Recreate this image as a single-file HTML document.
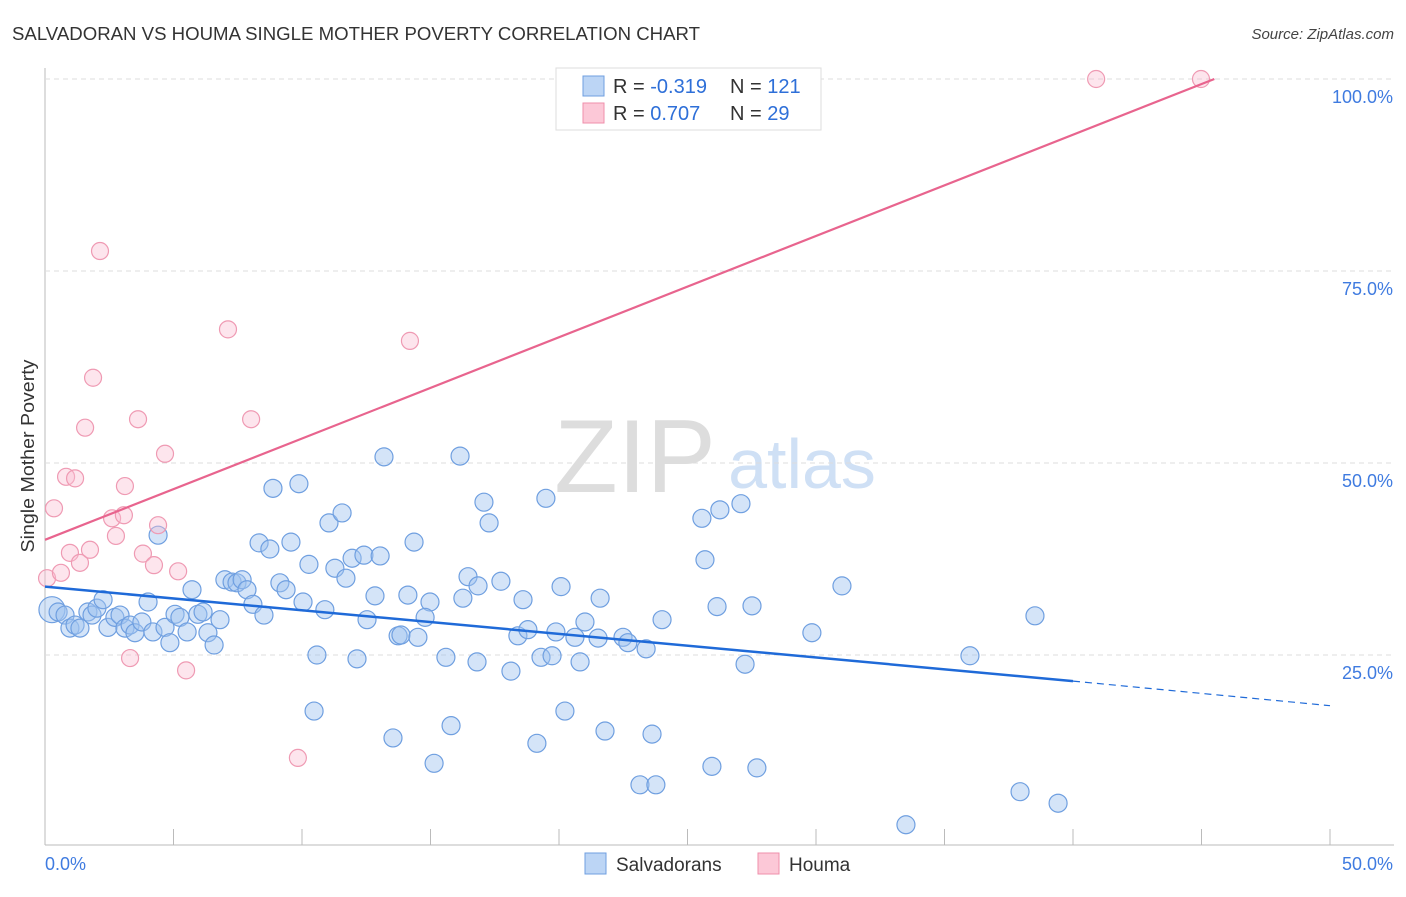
<!DOCTYPE html>
<html><head><meta charset="utf-8"><style>
body{margin:0;background:#fff;font-family:"Liberation Sans",sans-serif;}
svg text{font-family:"Liberation Sans",sans-serif;}
</style></head><body>
<svg id="chart" width="1406" height="892" xmlns="http://www.w3.org/2000/svg">
<text x="12" y="40" font-size="18" fill="#333" textLength="688" lengthAdjust="spacingAndGlyphs">SALVADORAN VS HOUMA SINGLE MOTHER POVERTY CORRELATION CHART</text>
<text x="1394" y="39" font-size="15" fill="#444" text-anchor="end" font-style="italic">Source: ZipAtlas.com</text>
<text x="635" y="492" font-size="104" fill="#ddd" text-anchor="middle" font-family="Liberation Serif">ZIP</text>
<text x="802" y="488" font-size="70" fill="#cfe0f5" text-anchor="middle">atlas</text>
<text transform="translate(34,456) rotate(-90)" font-size="18" fill="#333" text-anchor="middle" textLength="193" lengthAdjust="spacingAndGlyphs">Single Mother Poverty</text>
<g id="grid"></g><g id="pts"></g><g id="lines"></g>
<g>
<rect x="556" y="68" width="265" height="62" fill="#fff" stroke="#ddd"/>
<rect x="583" y="76" width="21" height="20" fill="#bcd5f5" stroke="#6f9fe0"/>
<rect x="583" y="103" width="21" height="20" fill="#fcc8d7" stroke="#ef8fab"/>
<text x="613" y="93" font-size="20" fill="#333">R = <tspan fill="#2e6fd8">-0.319</tspan></text>
<text x="730" y="93" font-size="20" fill="#333">N = <tspan fill="#2e6fd8">121</tspan></text>
<text x="613" y="120" font-size="20" fill="#333">R = <tspan fill="#2e6fd8"> 0.707</tspan></text>
<text x="730" y="120" font-size="20" fill="#333">N = <tspan fill="#2e6fd8"> 29</tspan></text>
</g>
<g>
<rect x="585" y="853" width="21" height="21" fill="#bcd5f5" stroke="#6f9fe0"/>
<text x="616" y="871" font-size="19" fill="#333">Salvadorans</text>
<rect x="758" y="853" width="21" height="21" fill="#fcc8d7" stroke="#ef8fab"/>
<text x="789" y="871" font-size="19" fill="#333">Houma</text>
</g>
</svg>
<script>
const blueX=[0.27,0.51,0.78,0.97,1.17,1.36,1.67,1.83,2.02,2.26,2.45,2.72,2.92,3.11,3.31,3.50,3.77,4.01,4.20,4.40,4.67,4.86,5.06,5.25,5.53,5.72,5.95,6.15,6.34,6.58,6.81,7.00,7.28,7.47,7.67,7.86,8.09,8.33,8.52,8.75,8.87,9.14,9.38,9.57,9.88,10.04,10.27,10.58,10.47,10.89,11.05,11.28,11.56,11.71,11.95,12.14,12.41,12.53,12.84,13.04,13.19,13.54,13.74,13.85,14.12,14.36,14.51,14.98,14.79,15.14,15.60,15.80,16.15,16.26,16.46,16.81,16.85,17.08,17.28,17.74,18.13,18.40,18.60,18.79,19.14,19.30,19.49,19.73,19.88,20.08,20.23,20.62,20.82,21.01,21.52,21.60,21.79,22.49,22.68,23.15,23.39,23.62,23.77,24.01,25.56,25.68,25.95,26.15,26.26,27.08,27.24,27.51,27.70,29.84,31.01,33.50,35.99,37.94,38.52,39.42];
const blueY=[30.9,30.6,30.2,28.5,28.9,28.5,30.6,30.2,31.1,32.2,28.6,29.9,30.2,28.5,28.9,27.9,29.3,31.9,28.0,40.6,28.6,26.6,30.3,29.9,28.0,33.5,30.3,30.6,27.9,26.3,29.6,34.8,34.5,34.4,34.8,33.5,31.6,39.6,30.2,38.8,46.7,34.4,33.5,39.7,47.3,31.9,36.8,25.0,17.7,30.9,42.2,36.3,43.5,35.0,37.6,24.5,38.0,29.6,32.7,37.9,50.8,14.2,27.5,27.6,32.8,39.7,27.3,31.9,29.9,10.9,24.7,15.8,50.9,32.4,35.2,24.1,34.0,44.9,42.2,34.6,22.9,27.5,32.2,28.3,13.5,24.7,45.4,24.9,28.0,33.9,17.7,27.3,24.1,29.3,27.2,32.4,15.1,27.3,26.6,8.1,25.8,14.7,8.1,29.6,42.8,37.4,10.5,31.3,43.9,44.7,23.8,31.4,10.3,27.9,34.0,2.9,24.9,7.2,30.1,5.7];
const pinkX=[0.08,0.35,0.62,0.82,0.97,1.17,1.36,1.56,1.75,1.87,2.14,2.61,2.76,3.07,3.11,3.31,3.62,3.81,4.24,4.40,4.67,5.18,5.49,7.12,8.02,9.84,14.20,40.90,44.98];
const pinkY=[35.0,44.1,35.7,48.2,38.3,48.0,37.0,54.6,38.7,61.1,77.6,42.8,40.5,43.2,47.0,24.6,55.7,38.2,36.7,41.9,51.2,35.9,23.0,67.4,55.7,11.6,65.9,100,100];
const yTicks=[25,50,75,100];
const yTickLabels=["25.0%","50.0%","75.0%","100.0%"];
const xTicks=[0,5,10,15,20,25,30,35,40,45,50];
const blueTrend=[[0,33.9],[40,21.6],[50,18.4]];
const pinkTrend=[[0,40.0],[45.5,100]];
const NS="http://www.w3.org/2000/svg";
const X=v=>45+v*25.7, Y=v=>847-v*7.68;
function mk(t,a,p){const e=document.createElementNS(NS,t);for(const k in a)e.setAttribute(k,a[k]);p.appendChild(e);return e;}
const g=document.getElementById('grid'),pts=document.getElementById('pts'),ln=document.getElementById('lines');
let ax=mk('line',{x1:45,y1:68,x2:45,y2:845,stroke:'#bbb'},g);


let bx=mk('line',{x1:45,y1:845,x2:1394,y2:845,stroke:'#bbb'},g);


yTicks.forEach((v,i)=>{
 let l=mk('line',{x1:45,y1:Y(v),x2:1394,y2:Y(v),stroke:'#ddd','stroke-dasharray':'5,4'},g);
 
 
 let t=mk('text',{x:1393,y:Y(v)+24,'font-size':18,fill:'#3f7be0','text-anchor':'end'},g);
 t.textContent=yTickLabels[i];
 
 
});
xTicks.forEach(v=>{
 let l=mk('line',{x1:X(v),y1:829,x2:X(v),y2:845,stroke:'#bbb'},g);
 
 
});
let t0=mk('text',{x:45,y:870,'font-size':18,fill:'#3f7be0'},g);t0.textContent='0.0%';


let t1=mk('text',{x:1393,y:870,'font-size':18,fill:'#3f7be0','text-anchor':'end'},g);t1.textContent='50.0%';


blueX.forEach((x,i)=>{
 let c=mk('circle',{cx:X(x),cy:Y(blueY[i]),r:i==0?13:9,fill:'rgba(160,195,240,0.45)',stroke:'#6f9fe0','stroke-width':1.2},pts);
 
 
});
pinkX.forEach((x,i)=>{
 let c=mk('circle',{cx:X(x),cy:Y(pinkY[i]),r:8.5,fill:'rgba(250,190,210,0.4)',stroke:'#ef9ab3','stroke-width':1.2},pts);
 
 
});
let bl=mk('line',{x1:X(blueTrend[0][0]),y1:Y(blueTrend[0][1]),x2:X(blueTrend[1][0]),y2:Y(blueTrend[1][1]),stroke:'#1f6ad8','stroke-width':2.5},ln);


let bd=mk('line',{x1:X(blueTrend[1][0]),y1:Y(blueTrend[1][1]),x2:X(blueTrend[2][0]),y2:Y(blueTrend[2][1]),stroke:'#1f6ad8','stroke-width':1.2,'stroke-dasharray':'7,5'},ln);


let pl=mk('line',{x1:X(pinkTrend[0][0]),y1:Y(pinkTrend[0][1]),x2:X(pinkTrend[1][0]),y2:Y(pinkTrend[1][1]),stroke:'#e8648e','stroke-width':2.2},ln);


</script>
</body></html>
